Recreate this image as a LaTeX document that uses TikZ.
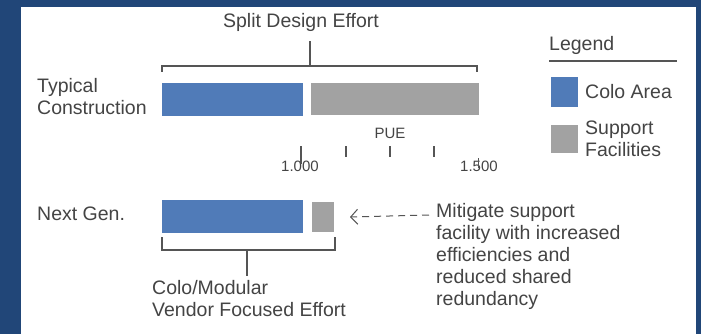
\documentclass[tikz,border=0pt]{standalone}
\usepackage{fontspec}
\setmainfont{Liberation Sans}
\usetikzlibrary{arrows.meta,positioning,calc}
\definecolor{pagebg}{RGB}{33,70,120}
\definecolor{coloblue}{RGB}{80,123,184}
\definecolor{supgray}{RGB}{162,162,162}
\definecolor{inkgray}{RGB}{68,68,68}
\definecolor{linegray}{RGB}{85,85,85}

\begin{document}
\begin{tikzpicture}[x=1pt, y=-1pt,
    bar/.style={anchor=north west, inner sep=0pt, outer sep=0pt, draw=none},
    lbl/.style={text=inkgray, inner sep=0pt, font=\fontsize{19.5}{22}\selectfont, align=left},
    small/.style={text=inkgray, inner sep=0pt, font=\fontsize{15}{17}\selectfont},
    brace/.style={linegray, line width=1.4pt}]
                % Background and panel
                \fill[pagebg] (0,0) rectangle (701,334);
                \fill[white] (21,7) rectangle (696,334);
                \useasboundingbox (0,0) rectangle (701,334);

                % Bars
                \node[bar, fill=coloblue, minimum width=141pt, minimum height=33pt] (typcolo) at (162,83) {};
                \node[bar, fill=supgray, minimum width=168pt, minimum height=32pt] (typsup) at (311,83) {};
                \node[bar, fill=coloblue, minimum width=141pt, minimum height=33pt] (nextcolo) at (162,200) {};
                \node[bar, fill=supgray, minimum width=22pt, minimum height=30pt] (nextsup) at (312,202) {};

                % Row labels
                \node[lbl, anchor=west] (typlabel) at (37,96.5) {Typical\\Construction};
                \node[lbl, anchor=west] (nextlabel) at (37,214) {Next Gen.};

                % Split design bracket
                \node[lbl] (split) at (301,22) {Split Design Effort};
                \coordinate (splitr) at ($(typsup.north east)+(-2,-17)$);
                \coordinate (splitm) at (310,66);
                \draw[brace] (typcolo.north west) ++(0,-11) |- (splitr) -- ++(0,6);
                \draw[brace] (splitm) -- ++(0,-25);

                % PUE scale
                \node[small] (pue) at (390,133) {PUE};
                \node[small] (lo) at (300,166) {1.000};
                \node[small] (hi) at (479,166) {1.500};
                \draw[linegray, line width=1.2pt] (301,146) -- (301,164);
                \foreach \t in {346,390,434}
                    \draw[linegray, line width=1.2pt] (\t,146) -- (\t,157);
                \draw[linegray, line width=1pt] (478,158) -- (478,168);

                % Colo/Modular bracket
                \coordinate (vendr) at ($(nextsup.south east)+(1,18)$);
                \draw[brace] ($(nextcolo.south west)+(0,4)$) |- (vendr) -- ++(0,-13);
                \draw[brace] (247,250) -- (247,276);
                \node[lbl, anchor=north west] (vendor) at (152,280) {Colo/Modular\\Vendor Focused Effort};

                % Mitigation note
                \node[lbl, anchor=north west] (mitigate) at (436,203) {Mitigate support\\facility with increased\\efficiencies and\\reduced shared\\redundancy};
                \draw[linegray, line width=1pt, dash pattern=on 7pt off 5pt, -{Straight Barb[length=7pt,width=15pt]}]
                    ($(mitigate.north west)+(-7,12)$) -- ($(nextsup.east)+(16,0)$);

                % Legend
                \node[lbl, anchor=west] (legend) at (549,45) {Legend};
                \draw[linegray, line width=1.2pt] (549,61) -- (677,61);
                \node[bar, fill=coloblue, minimum width=27pt, minimum height=30pt] (colokey) at (551,77) {};
                \node[bar, fill=supgray, minimum width=27pt, minimum height=28pt] (supkey) at (551,125) {};
                \node[lbl, anchor=west, right=7pt of colokey] (colotext) {Colo Area};
                \node[lbl, anchor=west, right=7pt of supkey] (suptext) {Support\\Facilities};
            \end{tikzpicture}
\end{document}
